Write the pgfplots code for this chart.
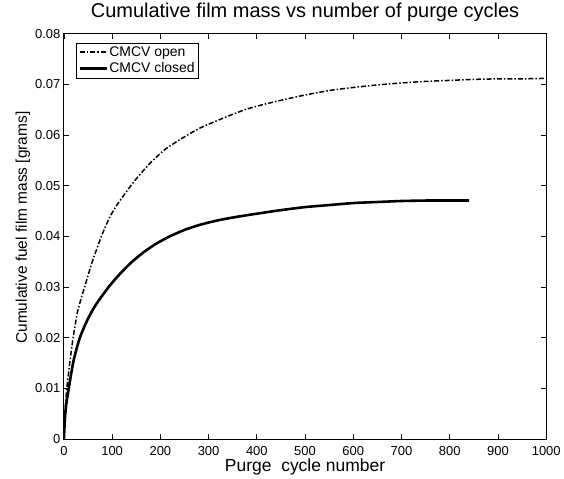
\documentclass[border=0pt]{standalone}
\usepackage{fontspec}
\setmainfont{Liberation Sans}
\usepackage{pgfplots}
\pgfplotsset{compat=1.18}
\usetikzlibrary{calc}
\begin{document}
\begin{tikzpicture}
\begin{axis}[
  scale only axis,
  width=483pt, height=406pt,
  xmin=0, xmax=1000, ymin=0, ymax=0.08,
  xtick={0,100,...,1000},
  xticklabels={0,100,200,300,400,500,600,700,800,900,1000},
  ytick={0,0.01,0.02,0.03,0.04,0.05,0.06,0.07,0.08},
  yticklabels={0,0.01,0.02,0.03,0.04,0.05,0.06,0.07,0.08},
  tick align=inside, tick pos=both,
  major tick length=5pt,
  tick style={black, line width=0.8pt},
  axis line style={line width=1pt},
  ticklabel style={font=\fontsize{13}{15}\selectfont},
  xticklabel style={anchor=base, yshift=-16pt},
  scaled y ticks=false,
  title={Cumulative film mass vs number of purge cycles},
  title style={font=\fontsize{20}{22}\selectfont, at={(axis description cs:0.5,1.0246)}, anchor=base},
  xlabel={Purge\ \ cycle number},
  ylabel={Cumulative fuel film mass [grams]},
  xlabel style={font=\fontsize{17.5}{19}\selectfont, at={(axis description cs:0.5,-0.0788)}, anchor=base},
  ylabel style={font=\fontsize{15.5}{17}\selectfont, at={(axis description cs:-0.0766,0.522)}, anchor=base},
  legend style={at={(0.0248,0.978)}, anchor=north west, font=\fontsize{14}{16}\selectfont,
    draw=black, line width=0.8pt, inner sep=2pt, row sep=2pt, nodes={inner sep=1.5pt}},
  legend image code/.code={\draw[#1] (0pt,0pt) -- (27pt,0pt);},
  legend cell align=left,
]
\addplot[black, line width=1.5pt, dash pattern=on 5pt off 2pt on 1.5pt off 2pt, smooth, tension=0.4] coordinates {
(0,0) (2,0.005) (6,0.010) (12,0.015) (19,0.020) (28,0.0250) (37,0.0282) (43,0.0300)
(57,0.0345) (78,0.0401) (95,0.0438) (112,0.0465) (145,0.0508) (178,0.0544) (210,0.0572)
(247,0.0595) (280,0.0613) (316,0.0628) (350,0.0641) (378,0.0651) (420,0.0662) (489,0.0677)
(550,0.0688) (600,0.0694) (650,0.0699) (700,0.0703) (750,0.0706) (800,0.0708) (850,0.0710)
(900,0.0711) (950,0.0711) (1000,0.0712)
};
\addlegendentry{CMCV open}
\addplot[black, line width=2.6pt, smooth, tension=0.4] coordinates {
(0,0) (2,0.004) (5,0.007) (10,0.010) (20,0.0155) (33,0.0200) (50,0.0238) (68,0.0268)
(95,0.0303) (116,0.0326) (140,0.0349) (164,0.0368) (190,0.0385) (219,0.0400) (250,0.0413)
(282,0.0423) (320,0.0432) (360,0.0439) (400,0.0445) (450,0.0452) (500,0.0458) (550,0.0462)
(600,0.0466) (650,0.0468) (700,0.0470) (760,0.0471) (840,0.0471)
};
\addlegendentry{CMCV closed}
\end{axis}
\path ($(current axis.south west)+(-64pt,-39pt)$) rectangle ($(current axis.north east)+(17pt,31pt)$);
\end{tikzpicture}
\end{document}
